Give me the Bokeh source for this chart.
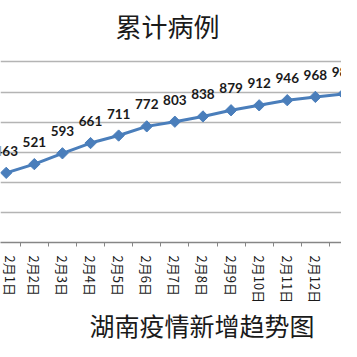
from math import pi
from bokeh.plotting import figure
from bokeh.models import Range1d, FixedTicker, ColumnDataSource, LabelSet, Label, Title
from bokeh.core.properties import value
from bokeh.embed import file_html
from bokeh.resources import INLINE

dates = ["2月1日", "2月2日", "2月3日", "2月4日", "2月5日", "2月6日", "2月7日",
         "2月8日", "2月9日", "2月10日", "2月11日", "2月12日", "2月13日"]
cases = [463, 521, 593, 661, 711, 772, 803, 838, 879, 912, 946, 968, 988]
y_ticks = [0, 200, 400, 600, 800, 1000, 1200]
title_text = "累计病例"
bottom_text = "湖南疫情新增趋势图"

idx = list(range(len(dates)))
src = ColumnDataSource(dict(x=idx, y=cases, lbl=[str(v) for v in cases]))

BLUE = "#4a7ebb"
CJK = "Noto Sans CJK SC"

# frame spans canvas y 0..244; value 1200 sits at y=62 like the reference plot area top
y_top = max(y_ticks) * 244 / 182

p = figure(width=341, height=341, output_backend="svg", toolbar_location=None,
           x_range=Range1d(-0.204, 11.93), y_range=Range1d(0, y_top),
           y_axis_location=None,
           min_border_left=0, min_border_right=0, min_border_top=0, min_border_bottom=97)
p.outline_line_color = None
p.background_fill_color = "white"
p.border_fill_color = "white"

p.xgrid.visible = False
p.ygrid.ticker = FixedTicker(ticks=y_ticks)
p.ygrid.grid_line_color = "#b4b4b4"
p.ygrid.grid_line_width = 1.5

ax = p.xaxis[0]
ax.ticker = FixedTicker(ticks=idx, minor_ticks=[i + 0.5 for i in range(-1, len(dates))])
ax.major_label_overrides = {i: d for i, d in enumerate(dates)}
ax.major_tick_in = 0
ax.major_tick_out = 0
ax.minor_tick_in = 0
ax.minor_tick_out = 4
ax.minor_tick_line_color = "#868686"
ax.axis_line_color = "#868686"
ax.axis_line_width = 1.5
ax.major_label_orientation = "vertical"
ax.major_label_standoff = 9
ax.major_label_text_font = CJK
ax.major_label_text_font_size = "13px"
ax.major_label_text_color = "#1a1a1a"

top_lbl = Label(x=167, y=24.5, x_units="canvas", y_units="canvas", text=title_text,
                text_align="center", text_baseline="middle",
                text_font=CJK, text_font_size="26px", text_color="#1a1a1a")
p.add_layout(top_lbl)

bt = Title(text=bottom_text, align="left", offset=89,
           text_font=CJK, text_font_size="25px", text_font_style="normal",
           text_color="#1a1a1a", standoff=-3)
p.add_layout(bt, "below")

p.line("x", "y", source=src, line_color=BLUE, line_width=3)
p.scatter("x", "y", source=src, marker="square", angle=pi / 4, size=8,
          fill_color=BLUE, line_color=BLUE)

labels = LabelSet(x="x", y="y", text="lbl", source=src, text_align="center",
                  text_baseline="middle", y_offset=22,
                  text_font=value("Lato"), text_font_size="13.5px", text_font_style="bold",
                  text_color="#1a1a1a")
p.add_layout(labels)

open("out.html", "w").write(file_html(p, INLINE))
